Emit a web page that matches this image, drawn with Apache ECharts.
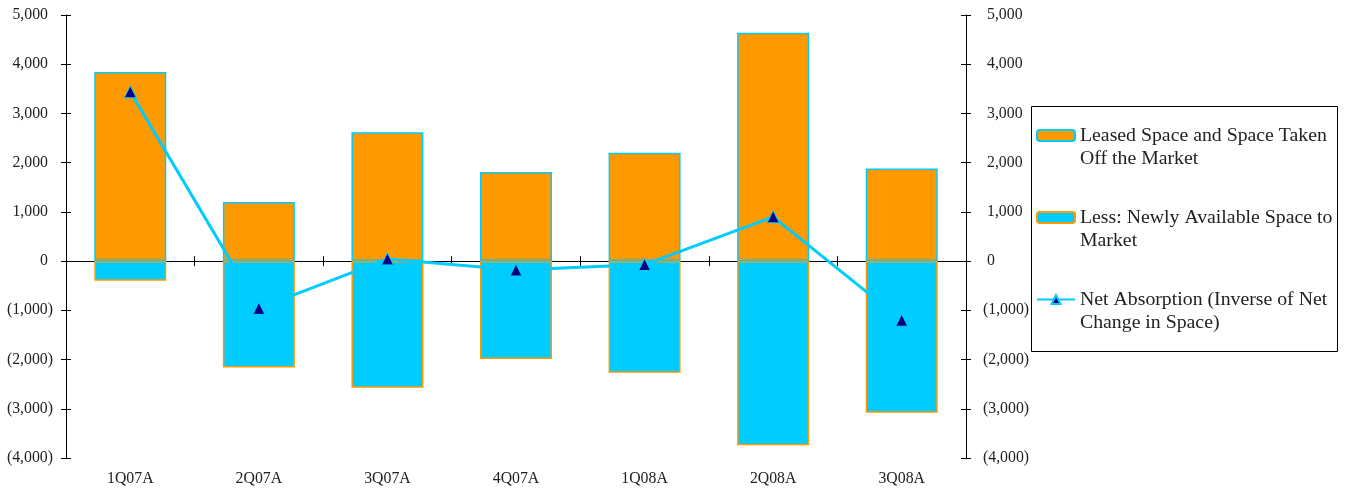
<!DOCTYPE html>
<html>
<head>
<meta charset="utf-8">
<title>Net Absorption</title>
<script src="https://cdn.jsdelivr.net/npm/echarts@6/dist/echarts.min.js"></script>
<style>
  html, body { margin: 0; padding: 0; background: #ffffff; }
  #chart { width: 1349px; height: 496px; }
</style>
</head>
<body>
<div id="chart"></div>
<script>
// Quarterly office space flows (thousand sq ft)
const quarters = ['1Q07A', '2Q07A', '3Q07A', '4Q07A', '1Q08A', '2Q08A', '3Q08A'];
const leasedSpace = [3840, 1200, 2620, 1810, 2200, 4640, 1880];
const newlyAvailable = [-400, -2160, -2575, -1990, -2270, -3740, -3080];
const netAbsorption = [3440, -960, 45, -180, -70, 900, -1200];

const seriesNames = [
  'Leased Space and Space Taken Off the Market',
  'Less: Newly Available Space to Market',
  'Net Absorption (Inverse of Net Change in Space)'
];
const legendLines = [
  ['Leased Space and Space Taken', 'Off the Market'],
  ['Less: Newly Available Space to', 'Market'],
  ['Net Absorption (Inverse of Net', 'Change in Space)']
];

const ORANGE = '#FF9900';
const CYAN = '#00CCFF';
const NAVY = '#000080';
const FONT = 'Liberation Serif';
const TEXT = '#222222';
const AXIS_FONT_SIZE = 15.8;

function thousands(v) {
  return Math.abs(v).toString().replace(/\B(?=(\d{3})+(?!\d))/g, ',');
}
// Accounting style: negatives in parentheses, positives padded like a ")" width
function accounting(v) {
  return v < 0 ? '(' + thousands(v) + ')' : '{p|' + thousands(v) + '}';
}

const yBase = { type: 'value', min: -4000, max: 5000, interval: 1000, splitLine: { show: false } };
const lineStyle = { color: '#000000', width: 1 };

const chart = echarts.init(document.getElementById('chart'), null, { renderer: 'canvas' });

// One legend block per series; a blank leading line keeps the key
// level with the first line of its two-line caption.
function legendFor(i, top) {
  return {
    data: [seriesNames[i]],
    left: 1036,
    top: top,
    orient: 'vertical',
    padding: 0,
    itemWidth: 38,
    itemHeight: 11,
    selectedMode: false,
    formatter: function () { return ' \n' + legendLines[i].join('\n'); },
    textStyle: { fontFamily: FONT, fontSize: 19.8, lineHeight: 23, color: TEXT }
  };
}

chart.setOption({
  animation: false,
  backgroundColor: '#ffffff',
  grid: { left: 66, right: 383, top: 15, bottom: 38, containLabel: false },
  graphic: [{
    type: 'rect',
    shape: { x: 1031.5, y: 106.5, width: 306, height: 245 },
    style: { fill: '#ffffff', stroke: '#000000', lineWidth: 1 },
    z: -1
  }],
  legend: [legendFor(0, 101), legendFor(1, 183), legendFor(2, 265)],
  xAxis: [
    {
      // category labels along the bottom edge
      type: 'category', data: quarters, position: 'bottom',
      axisLine: { show: false, onZero: false }, axisTick: { show: false },
      axisLabel: { fontFamily: FONT, fontSize: AXIS_FONT_SIZE, color: TEXT, margin: 13 }
    },
    {
      // zero line with downward ticks
      type: 'category', data: quarters, position: 'bottom',
      axisLine: { show: true, onZero: true, onZeroAxisIndex: 0, lineStyle: lineStyle },
      axisTick: { show: true, length: 5, lineStyle: lineStyle },
      axisLabel: { show: false }
    },
    {
      // upward ticks on the zero line
      type: 'category', data: quarters, position: 'top',
      axisLine: { show: false, onZero: true, onZeroAxisIndex: 0 },
      axisTick: { show: true, length: 5, lineStyle: lineStyle },
      axisLabel: { show: false }
    }
  ],
  yAxis: [
    Object.assign({}, yBase, {
      position: 'left',
      axisLine: { show: true, lineStyle: lineStyle },
      axisTick: { show: true, length: 5, lineStyle: lineStyle },
      axisLabel: {
        fontFamily: FONT, fontSize: AXIS_FONT_SIZE, color: TEXT, margin: 13, formatter: accounting,
        rich: { p: { fontFamily: FONT, fontSize: AXIS_FONT_SIZE, color: TEXT, padding: [0, 5, 0, 0] } }
      }
    }),
    Object.assign({}, yBase, {
      position: 'right',
      axisLine: { show: true, lineStyle: lineStyle },
      axisTick: { show: true, length: 5, lineStyle: lineStyle },
      axisLabel: {
        fontFamily: FONT, fontSize: AXIS_FONT_SIZE, color: TEXT, margin: 17, formatter: accounting,
        rich: { p: { fontFamily: FONT, fontSize: AXIS_FONT_SIZE, color: TEXT, padding: [0, 0, 0, 4] } }
      }
    }),
    Object.assign({}, yBase, {
      position: 'left',
      axisLine: { show: false },
      axisTick: { show: true, inside: true, length: 5, lineStyle: lineStyle },
      axisLabel: { show: false }
    }),
    Object.assign({}, yBase, {
      position: 'right',
      axisLine: { show: false },
      axisTick: { show: true, inside: true, length: 5, lineStyle: lineStyle },
      axisLabel: { show: false }
    })
  ],
  series: [
    {
      name: seriesNames[0], type: 'bar', stack: 'flow', data: leasedSpace,
      xAxisIndex: 0, yAxisIndex: 0, barWidth: '56%',
      itemStyle: { color: ORANGE, borderColor: CYAN, borderWidth: 1.5 }
    },
    {
      name: seriesNames[1], type: 'bar', stack: 'flow', data: newlyAvailable,
      xAxisIndex: 0, yAxisIndex: 0, barWidth: '56%',
      itemStyle: { color: CYAN, borderColor: ORANGE, borderWidth: 1.5 }
    },
    {
      name: seriesNames[2], type: 'line', data: netAbsorption,
      xAxisIndex: 0, yAxisIndex: 0, z: 5,
      symbol: 'triangle', symbolSize: 12, showAllSymbol: true,
      lineStyle: { color: CYAN, width: 3 },
      itemStyle: { color: NAVY, borderColor: CYAN, borderWidth: 1 }
    }
  ]
});
</script>
</body>
</html>
